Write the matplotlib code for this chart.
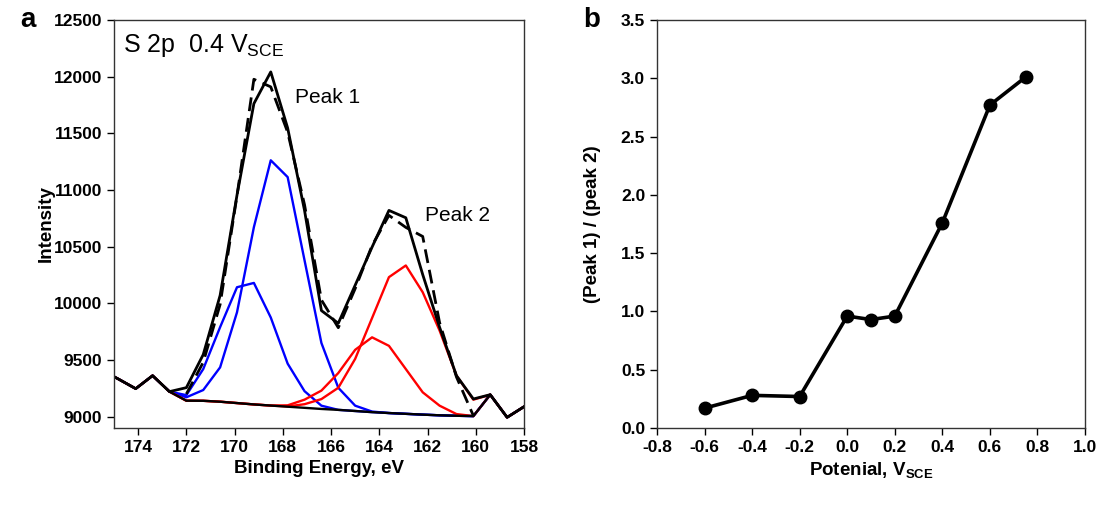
import matplotlib
matplotlib.use('Agg')
import matplotlib.pyplot as plt

plt.rcParams['font.family'] = ['Liberation Sans', 'DejaVu Sans']
plt.rcParams['mathtext.fontset'] = 'custom'
plt.rcParams['mathtext.rm'] = 'Liberation Sans'
plt.rcParams['mathtext.bf'] = 'Liberation Sans:bold'

# Panel a: S 2p spectrum at 0.4 V_SCE
energy = [175.5, 174.8, 174.1, 173.4, 172.7, 172.0, 171.3, 170.6, 169.9, 169.2,
          168.5, 167.8, 167.1, 166.4, 165.7, 165.0, 164.3, 163.6, 162.9, 162.2,
          161.5, 160.8, 160.1, 159.4, 158.7, 158.0]
raw = [9410, 9330, 9247, 9362, 9221, 9256, 9548, 10070, 10955, 11762,
       12042, 11547, 10820, 9936, 9824, 10160, 10496, 10820, 10755, 10254,
       9789, 9362, 9156, 9194, 8994, 9088]
background = [9410, 9330, 9247, 9362, 9221, 9141, 9140, 9132, 9120, 9108,
              9098, 9088, 9078, 9068, 9060, 9050, 9040, 9032, 9025, 9018,
              9012, 9008, 9005, 9194, 8994, 9088]
blue_big = [9410, 9330, 9247, 9362, 9221, 9171, 9235, 9435, 9921, 10672,
            11262, 11114, 10380, 9650, 9255, 9097, 9045, 9032, 9025, 9018,
            9012, 9008, 9005, 9194, 8994, 9088]
blue_small = [9410, 9330, 9247, 9362, 9221, 9190, 9420, 9790, 10142, 10180,
              9875, 9468, 9225, 9097, 9060, 9050, 9040, 9032, 9025, 9018,
              9012, 9008, 9005, 9194, 8994, 9088]
red_big = [9410, 9330, 9247, 9362, 9221, 9141, 9140, 9132, 9120, 9108,
           9098, 9090, 9110, 9155, 9255, 9510, 9870, 10231, 10334, 10098,
           9760, 9362, 9150, 9194, 8994, 9088]
red_small = [9410, 9330, 9247, 9362, 9221, 9141, 9140, 9132, 9120, 9108,
             9098, 9100, 9150, 9230, 9385, 9590, 9700, 9625, 9420, 9215,
             9097, 9023, 9005, 9194, 8994, 9088]
fit_energy = [172.0, 171.3, 170.6, 169.9, 169.2, 168.5, 167.8, 167.1, 166.4,
              165.7, 165.0, 164.3, 163.6, 162.9, 162.2, 161.5, 160.8, 160.1]
fit_sum = [9200, 9480, 9990, 10950, 11977, 11910, 11510, 10870, 10030,
           9785, 10130, 10510, 10776, 10670, 10590, 9830, 9350, 9009]

# Panel b: peak ratio vs potential
potential = [-0.6, -0.4, -0.2, 0.0, 0.1, 0.2, 0.4, 0.6, 0.75]
ratio = [0.17, 0.28, 0.27, 0.96, 0.93, 0.96, 1.76, 2.77, 3.01]

fig = plt.figure(figsize=(11, 5.05), dpi=100)
ax1 = fig.add_axes([114 / 1100, 77 / 505, 410 / 1100, 408 / 505])
ax2 = fig.add_axes([657 / 1100, 77 / 505, 428 / 1100, 408 / 505])

ax1.plot(energy, blue_big, color='#0000ff', lw=1.7)
ax1.plot(energy, blue_small, color='#0000ff', lw=1.7)
ax1.plot(energy, red_big, color='#ff0000', lw=1.7)
ax1.plot(energy, red_small, color='#ff0000', lw=1.7)
ax1.plot(energy, background, color='black', lw=1.7)
ax1.plot(energy, raw, color='black', lw=2.0)
ax1.plot(fit_energy, fit_sum, color='black', lw=2.0, ls=(0, (5, 2.5)))

ax1.set_xlim(175, 158)
ax1.set_ylim(8900, 12500)
ax1.set_xticks([174, 172, 170, 168, 166, 164, 162, 160, 158])
ax1.set_yticks([9000, 9500, 10000, 10500, 11000, 11500, 12000, 12500])
ax1.set_xlabel('Binding Energy, eV', fontsize=13.5, fontweight='bold')
ax1.set_ylabel('Intensity', fontsize=13.5, fontweight='bold', labelpad=-1)
ax1.text(0.022, 0.97, r'S 2p  0.4 $\mathrm{V_{SCE}}$', transform=ax1.transAxes,
         fontsize=18, va='top', ha='left')
ax1.text(167.5, 11820, 'Peak 1', fontsize=15, va='center', ha='left')
ax1.text(162.1, 10775, 'Peak 2', fontsize=15, va='center', ha='left')

ax2.plot(potential, ratio, color='black', lw=2.6, marker='o', ms=9)
ax2.set_xlim(-0.8, 1.0)
ax2.set_ylim(0, 3.5)
ax2.set_xticks([-0.8, -0.6, -0.4, -0.2, 0.0, 0.2, 0.4, 0.6, 0.8, 1.0])
ax2.set_yticks([0.0, 0.5, 1.0, 1.5, 2.0, 2.5, 3.0, 3.5])
ax2.set_xticklabels(['%.1f' % v for v in ax2.get_xticks()])
ax2.set_yticklabels(['%.1f' % v for v in ax2.get_yticks()])
ax2.set_xlabel(r'Potenial, V$_\mathbf{SCE}$', fontsize=13.5, fontweight='bold')
ax2.set_ylabel('(Peak 1) / (peak 2)', fontsize=13.5, fontweight='bold', labelpad=14)

for ax in (ax1, ax2):
    ax.tick_params(direction='out', length=5, width=1, labelsize=12.5,
                   top=False, right=False)
    for lab in ax.get_xticklabels() + ax.get_yticklabels():
        lab.set_fontweight('bold')
    for sp in ax.spines.values():
        sp.set_linewidth(1)
        sp.set_color('#333333')

fig.text(20 / 1100, 1 - 20 / 505, 'a', fontsize=20, fontweight='bold', va='center')
fig.text(583 / 1100, 1 - 20 / 505, 'b', fontsize=20, fontweight='bold', va='center')

fig.savefig('out.png', dpi=100)
